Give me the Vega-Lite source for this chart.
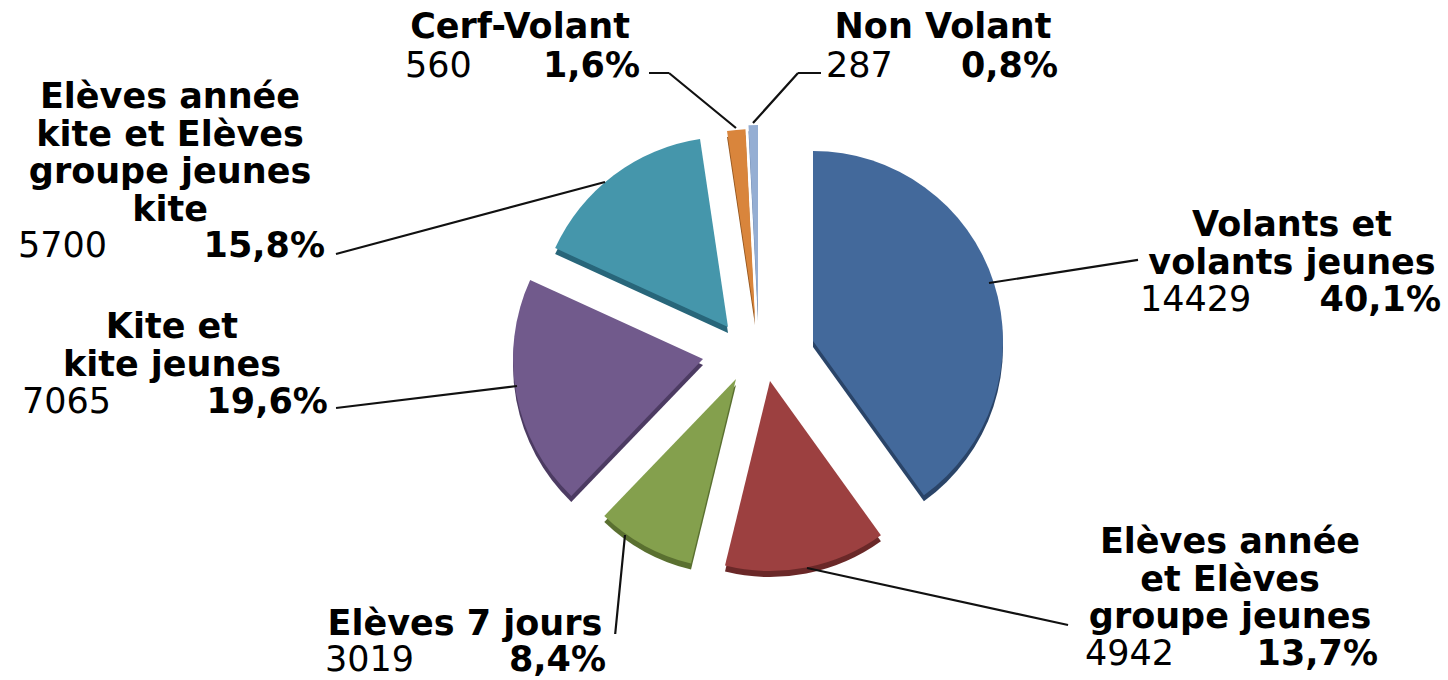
{
  "$schema": "https://vega.github.io/schema/vega-lite/v6.json",
  "width": 1380,
  "height": 662,
  "autosize": {"type": "none"},
  "padding": {"left": 68, "top": 18, "right": 0, "bottom": 0},
  "background": "white",
  "config": {"view": {"stroke": null}},
  "data": {
    "values": [
      {"cat": "Volants et volants jeunes", "name": ["Volants et", "volants jeunes"], "value": 14429, "pct": "40,1%", "order": 1},
      {"cat": "Elèves année et Elèves groupe jeunes", "name": ["Elèves année", "et  Elèves", "groupe jeunes"], "value": 4942, "pct": "13,7%", "order": 2},
      {"cat": "Elèves 7 jours", "name": ["Elèves 7 jours"], "value": 3019, "pct": "8,4%", "order": 3},
      {"cat": "Kite et kite jeunes", "name": ["Kite  et", "kite jeunes"], "value": 7065, "pct": "19,6%", "order": 4},
      {"cat": "Elèves année kite et Elèves groupe jeunes kite", "name": ["Elèves année", "kite et Elèves", "groupe jeunes", "kite"], "value": 5700, "pct": "15,8%", "order": 5},
      {"cat": "Cerf-Volant", "name": ["Cerf-Volant"], "value": 560, "pct": "1,6%", "order": 6},
      {"cat": "Non Volant", "name": ["Non Volant"], "value": 287, "pct": "0,8%", "order": 7}
    ]
  },
  "resolve": {"scale": {"theta": "independent"}},
  "layer": [
    {"mark": {"type": "arc", "radius": 190, "xOffset": 55, "yOffset": -2, "fill": "#2A4468"},
     "encoding": {"theta": {"field": "value", "type": "quantitative", "stack": true}, "order": {"field": "order", "type": "quantitative"},
       "fillOpacity": {"condition": {"test": "datum.order === 1", "value": 1}, "value": 0}}},
    {"mark": {"type": "arc", "radius": 190, "xOffset": 12, "yOffset": 38, "fill": "#6A2828"},
     "encoding": {"theta": {"field": "value", "type": "quantitative", "stack": true}, "order": {"field": "order", "type": "quantitative"},
       "fillOpacity": {"condition": {"test": "datum.order === 2", "value": 1}, "value": 0}}},
    {"mark": {"type": "arc", "radius": 190, "xOffset": -22, "yOffset": 36, "fill": "#5A7030"},
     "encoding": {"theta": {"field": "value", "type": "quantitative", "stack": true}, "order": {"field": "order", "type": "quantitative"},
       "fillOpacity": {"condition": {"test": "datum.order === 3", "value": 1}, "value": 0}}},
    {"mark": {"type": "arc", "radius": 190, "xOffset": -55, "yOffset": 16, "fill": "#4C3B62"},
     "encoding": {"theta": {"field": "value", "type": "quantitative", "stack": true}, "order": {"field": "order", "type": "quantitative"},
       "fillOpacity": {"condition": {"test": "datum.order === 4", "value": 1}, "value": 0}}},
    {"mark": {"type": "arc", "radius": 190, "xOffset": -30, "yOffset": -16, "fill": "#28667A"},
     "encoding": {"theta": {"field": "value", "type": "quantitative", "stack": true}, "order": {"field": "order", "type": "quantitative"},
       "fillOpacity": {"condition": {"test": "datum.order === 5", "value": 1}, "value": 0}}},
    {"mark": {"type": "arc", "radius": 190, "xOffset": -3, "yOffset": -24, "fill": "#94561F"},
     "encoding": {"theta": {"field": "value", "type": "quantitative", "stack": true}, "order": {"field": "order", "type": "quantitative"},
       "fillOpacity": {"condition": {"test": "datum.order === 6", "value": 1}, "value": 0}}},
    {"mark": {"type": "arc", "radius": 190, "xOffset": 0, "yOffset": -28, "fill": "#647FA6"},
     "encoding": {"theta": {"field": "value", "type": "quantitative", "stack": true}, "order": {"field": "order", "type": "quantitative"},
       "fillOpacity": {"condition": {"test": "datum.order === 7", "value": 1}, "value": 0}}},

    {"mark": {"type": "arc", "radius": 190, "xOffset": 55, "yOffset": -8},
     "encoding": {"theta": {"field": "value", "type": "quantitative", "stack": true}, "order": {"field": "order", "type": "quantitative"},
       "color": {"field": "cat", "type": "nominal", "legend": null, "scale": {"domain": ["Volants et volants jeunes", "Elèves année et Elèves groupe jeunes", "Elèves 7 jours", "Kite et kite jeunes", "Elèves année kite et Elèves groupe jeunes kite", "Cerf-Volant", "Non Volant"], "range": ["#43699B", "#9C4040", "#84A04D", "#715A8C", "#4596AB", "#D9853C", "#95AED3"]}},
       "fillOpacity": {"condition": {"test": "datum.order === 1", "value": 1}, "value": 0}}},
    {"mark": {"type": "arc", "radius": 190, "xOffset": 12, "yOffset": 32},
     "encoding": {"theta": {"field": "value", "type": "quantitative", "stack": true}, "order": {"field": "order", "type": "quantitative"},
       "color": {"field": "cat", "type": "nominal", "legend": null},
       "fillOpacity": {"condition": {"test": "datum.order === 2", "value": 1}, "value": 0}}},
    {"mark": {"type": "arc", "radius": 190, "xOffset": -22, "yOffset": 30},
     "encoding": {"theta": {"field": "value", "type": "quantitative", "stack": true}, "order": {"field": "order", "type": "quantitative"},
       "color": {"field": "cat", "type": "nominal", "legend": null},
       "fillOpacity": {"condition": {"test": "datum.order === 3", "value": 1}, "value": 0}}},
    {"mark": {"type": "arc", "radius": 190, "xOffset": -55, "yOffset": 10},
     "encoding": {"theta": {"field": "value", "type": "quantitative", "stack": true}, "order": {"field": "order", "type": "quantitative"},
       "color": {"field": "cat", "type": "nominal", "legend": null},
       "fillOpacity": {"condition": {"test": "datum.order === 4", "value": 1}, "value": 0}}},
    {"mark": {"type": "arc", "radius": 190, "xOffset": -30, "yOffset": -22},
     "encoding": {"theta": {"field": "value", "type": "quantitative", "stack": true}, "order": {"field": "order", "type": "quantitative"},
       "color": {"field": "cat", "type": "nominal", "legend": null},
       "fillOpacity": {"condition": {"test": "datum.order === 5", "value": 1}, "value": 0}}},
    {"mark": {"type": "arc", "radius": 190, "xOffset": -3, "yOffset": -30},
     "encoding": {"theta": {"field": "value", "type": "quantitative", "stack": true}, "order": {"field": "order", "type": "quantitative"},
       "color": {"field": "cat", "type": "nominal", "legend": null},
       "fillOpacity": {"condition": {"test": "datum.order === 6", "value": 1}, "value": 0}}},
    {"mark": {"type": "arc", "radius": 190, "xOffset": 0, "yOffset": -34},
     "encoding": {"theta": {"field": "value", "type": "quantitative", "stack": true}, "order": {"field": "order", "type": "quantitative"},
       "color": {"field": "cat", "type": "nominal", "legend": null},
       "fillOpacity": {"condition": {"test": "datum.order === 7", "value": 1}, "value": 0}}},

    {"mark": {"type": "arc", "radius": 150.8, "padAngle": 3, "xOffset": 231, "yOffset": -66, "stroke": "#111", "strokeWidth": 2.2, "fillOpacity": 0},
     "encoding": {"theta": {"field": "value", "type": "quantitative", "stack": true, "scale": {"range": [0.158, 6.4412]}}, "order": {"field": "order", "type": "quantitative"},
       "strokeOpacity": {"condition": {"test": "datum.order === 1", "value": 1}, "value": 0}}},
    {"mark": {"type": "arc", "radius": 267.2, "padAngle": 3, "xOffset": 49, "yOffset": 219, "stroke": "#111", "strokeWidth": 2.2, "fillOpacity": 0},
     "encoding": {"theta": {"field": "value", "type": "quantitative", "stack": true, "scale": {"range": [-1.1636, 5.1196]}}, "order": {"field": "order", "type": "quantitative"},
       "strokeOpacity": {"condition": {"test": "datum.order === 2", "value": 1}, "value": 0}}},
    {"mark": {"type": "arc", "radius": 99.5, "padAngle": 3, "xOffset": -133, "yOffset": 186, "stroke": "#111", "strokeWidth": 2.2, "fillOpacity": 0},
     "encoding": {"theta": {"field": "value", "type": "quantitative", "stack": true, "scale": {"range": [-0.4039, 5.8793]}}, "order": {"field": "order", "type": "quantitative"},
       "strokeOpacity": {"condition": {"test": "datum.order === 3", "value": 1}, "value": 0}}},
    {"mark": {"type": "arc", "radius": 182.3, "padAngle": 3, "xOffset": -241, "yOffset": 37, "stroke": "#111", "strokeWidth": 2.2, "fillOpacity": 0},
     "encoding": {"theta": {"field": "value", "type": "quantitative", "stack": true, "scale": {"range": [0.0674, 6.3506]}}, "order": {"field": "order", "type": "quantitative"},
       "strokeOpacity": {"condition": {"test": "datum.order === 4", "value": 1}, "value": 0}}},
    {"mark": {"type": "arc", "radius": 278.5, "padAngle": 3, "xOffset": -153, "yOffset": -167, "stroke": "#111", "strokeWidth": 2.2, "fillOpacity": 0},
     "encoding": {"theta": {"field": "value", "type": "quantitative", "stack": true, "scale": {"range": [-1.1872, 5.0960]}}, "order": {"field": "order", "type": "quantitative"},
       "strokeOpacity": {"condition": {"test": "datum.order === 5", "value": 1}, "value": 0}}},
    {"mark": {"type": "arc", "radius": 86.7, "padAngle": 3, "xOffset": -22, "yOffset": -221, "stroke": "#111", "strokeWidth": 2.2, "fillOpacity": 0},
     "encoding": {"theta": {"field": "value", "type": "quantitative", "stack": true, "scale": {"range": [-0.7845, 5.4987]}}, "order": {"field": "order", "type": "quantitative"},
       "strokeOpacity": {"condition": {"test": "datum.order === 6", "value": 1}, "value": 0}}},
    {"mark": {"type": "arc", "radius": 20, "padAngle": 3, "xOffset": -89, "yOffset": -276, "stroke": "#111", "strokeWidth": 2.2, "fillOpacity": 0},
     "encoding": {"theta": {"field": "value", "type": "quantitative", "stack": true, "scale": {"range": [-1.4719, 4.8113]}}, "order": {"field": "order", "type": "quantitative"},
       "strokeOpacity": {"condition": {"test": "datum.order === 6", "value": 1}, "value": 0}}},
    {"mark": {"type": "arc", "radius": 67.3, "padAngle": 3, "xOffset": -5, "yOffset": -226, "stroke": "#111", "strokeWidth": 2.2, "fillOpacity": 0},
     "encoding": {"theta": {"field": "value", "type": "quantitative", "stack": true, "scale": {"range": [0.7578, 7.0410]}}, "order": {"field": "order", "type": "quantitative"},
       "strokeOpacity": {"condition": {"test": "datum.order === 7", "value": 1}, "value": 0}}},
    {"mark": {"type": "arc", "radius": 23, "padAngle": 3, "xOffset": 40, "yOffset": -276, "stroke": "#111", "strokeWidth": 2.2, "fillOpacity": 0},
     "encoding": {"theta": {"field": "value", "type": "quantitative", "stack": true, "scale": {"range": [1.5958, 7.8790]}}, "order": {"field": "order", "type": "quantitative"},
       "strokeOpacity": {"condition": {"test": "datum.order === 7", "value": 1}, "value": 0}}},

    {"mark": {"type": "text", "radius": 195, "align": "center", "baseline": "alphabetic", "dx": 348.4, "dy": -53.1, "font": "DejaVu Sans", "fontSize": 35, "fontWeight": "bold", "lineHeight": 37.5, "fill": "#000"},
     "encoding": {"theta": {"field": "value", "type": "quantitative", "stack": true}, "order": {"field": "order", "type": "quantitative"},
       "text": {"condition": {"test": "datum.order === 1", "field": "name", "type": "nominal"}, "value": ""}}},
    {"mark": {"type": "text", "radius": 195, "align": "left", "baseline": "alphabetic", "dx": 196.4, "dy": 21.9, "font": "DejaVu Sans", "fontSize": 35, "fill": "#000"},
     "encoding": {"theta": {"field": "value", "type": "quantitative", "stack": true}, "order": {"field": "order", "type": "quantitative"},
       "text": {"condition": {"test": "datum.order === 1", "field": "value", "type": "quantitative", "format": "d"}, "value": ""}}},
    {"mark": {"type": "text", "radius": 195, "align": "right", "baseline": "alphabetic", "dx": 497.4, "dy": 21.9, "font": "DejaVu Sans", "fontSize": 35, "fontWeight": "bold", "fill": "#000"},
     "encoding": {"theta": {"field": "value", "type": "quantitative", "stack": true}, "order": {"field": "order", "type": "quantitative"},
       "text": {"condition": {"test": "datum.order === 1", "field": "pct", "type": "nominal"}, "value": ""}}},

    {"mark": {"type": "text", "radius": 195, "align": "center", "baseline": "alphabetic", "dx": 434.8, "dy": 12.6, "font": "DejaVu Sans", "fontSize": 35, "fontWeight": "bold", "lineHeight": 37.5, "fill": "#000"},
     "encoding": {"theta": {"field": "value", "type": "quantitative", "stack": true}, "order": {"field": "order", "type": "quantitative"},
       "text": {"condition": {"test": "datum.order === 2", "field": "name", "type": "nominal"}, "value": ""}}},
    {"mark": {"type": "text", "radius": 195, "align": "left", "baseline": "alphabetic", "dx": 289.8, "dy": 124.6, "font": "DejaVu Sans", "fontSize": 35, "fill": "#000"},
     "encoding": {"theta": {"field": "value", "type": "quantitative", "stack": true}, "order": {"field": "order", "type": "quantitative"},
       "text": {"condition": {"test": "datum.order === 2", "field": "value", "type": "quantitative", "format": "d"}, "value": ""}}},
    {"mark": {"type": "text", "radius": 195, "align": "right", "baseline": "alphabetic", "dx": 582.8, "dy": 124.6, "font": "DejaVu Sans", "fontSize": 35, "fontWeight": "bold", "fill": "#000"},
     "encoding": {"theta": {"field": "value", "type": "quantitative", "stack": true}, "order": {"field": "order", "type": "quantitative"},
       "text": {"condition": {"test": "datum.order === 2", "field": "pct", "type": "nominal"}, "value": ""}}},

    {"mark": {"type": "text", "radius": 195, "align": "center", "baseline": "alphabetic", "dx": -199.1, "dy": 115.1, "font": "DejaVu Sans", "fontSize": 35, "fontWeight": "bold", "lineHeight": 37.5, "fill": "#000"},
     "encoding": {"theta": {"field": "value", "type": "quantitative", "stack": true}, "order": {"field": "order", "type": "quantitative"},
       "text": {"condition": {"test": "datum.order === 3", "field": "name", "type": "nominal"}, "value": ""}}},
    {"mark": {"type": "text", "radius": 195, "align": "left", "baseline": "alphabetic", "dx": -339.1, "dy": 151.6, "font": "DejaVu Sans", "fontSize": 35, "fill": "#000"},
     "encoding": {"theta": {"field": "value", "type": "quantitative", "stack": true}, "order": {"field": "order", "type": "quantitative"},
       "text": {"condition": {"test": "datum.order === 3", "field": "value", "type": "quantitative", "format": "d"}, "value": ""}}},
    {"mark": {"type": "text", "radius": 195, "align": "right", "baseline": "alphabetic", "dx": -58.1, "dy": 151.6, "font": "DejaVu Sans", "fontSize": 35, "fontWeight": "bold", "fill": "#000"},
     "encoding": {"theta": {"field": "value", "type": "quantitative", "stack": true}, "order": {"field": "order", "type": "quantitative"},
       "text": {"condition": {"test": "datum.order === 3", "field": "pct", "type": "nominal"}, "value": ""}}},

    {"mark": {"type": "text", "radius": 195, "align": "center", "baseline": "alphabetic", "dx": -394.5, "dy": -47.5, "font": "DejaVu Sans", "fontSize": 35, "fontWeight": "bold", "lineHeight": 37.5, "fill": "#000"},
     "encoding": {"theta": {"field": "value", "type": "quantitative", "stack": true}, "order": {"field": "order", "type": "quantitative"},
       "text": {"condition": {"test": "datum.order === 4", "field": "name", "type": "nominal"}, "value": ""}}},
    {"mark": {"type": "text", "radius": 195, "align": "left", "baseline": "alphabetic", "dx": -544.5, "dy": 27.5, "font": "DejaVu Sans", "fontSize": 35, "fill": "#000"},
     "encoding": {"theta": {"field": "value", "type": "quantitative", "stack": true}, "order": {"field": "order", "type": "quantitative"},
       "text": {"condition": {"test": "datum.order === 4", "field": "value", "type": "quantitative", "format": "d"}, "value": ""}}},
    {"mark": {"type": "text", "radius": 195, "align": "right", "baseline": "alphabetic", "dx": -238.5, "dy": 27.5, "font": "DejaVu Sans", "fontSize": 35, "fontWeight": "bold", "fill": "#000"},
     "encoding": {"theta": {"field": "value", "type": "quantitative", "stack": true}, "order": {"field": "order", "type": "quantitative"},
       "text": {"condition": {"test": "datum.order === 4", "field": "pct", "type": "nominal"}, "value": ""}}},

    {"mark": {"type": "text", "radius": 195, "align": "center", "baseline": "alphabetic", "dx": -470.7, "dy": -85.2, "font": "DejaVu Sans", "fontSize": 35, "fontWeight": "bold", "lineHeight": 37.5, "fill": "#000"},
     "encoding": {"theta": {"field": "value", "type": "quantitative", "stack": true}, "order": {"field": "order", "type": "quantitative"},
       "text": {"condition": {"test": "datum.order === 5", "field": "name", "type": "nominal"}, "value": ""}}},
    {"mark": {"type": "text", "radius": 195, "align": "left", "baseline": "alphabetic", "dx": -622.7, "dy": 63.8, "font": "DejaVu Sans", "fontSize": 35, "fill": "#000"},
     "encoding": {"theta": {"field": "value", "type": "quantitative", "stack": true}, "order": {"field": "order", "type": "quantitative"},
       "text": {"condition": {"test": "datum.order === 5", "field": "value", "type": "quantitative", "format": "d"}, "value": ""}}},
    {"mark": {"type": "text", "radius": 195, "align": "right", "baseline": "alphabetic", "dx": -315.7, "dy": 63.8, "font": "DejaVu Sans", "fontSize": 35, "fontWeight": "bold", "fill": "#000"},
     "encoding": {"theta": {"field": "value", "type": "quantitative", "stack": true}, "order": {"field": "order", "type": "quantitative"},
       "text": {"condition": {"test": "datum.order === 5", "field": "pct", "type": "nominal"}, "value": ""}}},

    {"mark": {"type": "text", "radius": 195, "align": "center", "baseline": "alphabetic", "dx": -218.7, "dy": -117, "font": "DejaVu Sans", "fontSize": 35, "fontWeight": "bold", "lineHeight": 37.5, "fill": "#000"},
     "encoding": {"theta": {"field": "value", "type": "quantitative", "stack": true}, "order": {"field": "order", "type": "quantitative"},
       "text": {"condition": {"test": "datum.order === 6", "field": "name", "type": "nominal"}, "value": ""}}},
    {"mark": {"type": "text", "radius": 195, "align": "left", "baseline": "alphabetic", "dx": -333.7, "dy": -78, "font": "DejaVu Sans", "fontSize": 35, "fill": "#000"},
     "encoding": {"theta": {"field": "value", "type": "quantitative", "stack": true}, "order": {"field": "order", "type": "quantitative"},
       "text": {"condition": {"test": "datum.order === 6", "field": "value", "type": "quantitative", "format": "d"}, "value": ""}}},
    {"mark": {"type": "text", "radius": 195, "align": "right", "baseline": "alphabetic", "dx": -98.7, "dy": -78, "font": "DejaVu Sans", "fontSize": 35, "fontWeight": "bold", "fill": "#000"},
     "encoding": {"theta": {"field": "value", "type": "quantitative", "stack": true}, "order": {"field": "order", "type": "quantitative"},
       "text": {"condition": {"test": "datum.order === 6", "field": "pct", "type": "nominal"}, "value": ""}}},

    {"mark": {"type": "text", "radius": 195, "align": "center", "baseline": "alphabetic", "dx": 189.9, "dy": -116.1, "font": "DejaVu Sans", "fontSize": 35, "fontWeight": "bold", "lineHeight": 37.5, "fill": "#000"},
     "encoding": {"theta": {"field": "value", "type": "quantitative", "stack": true}, "order": {"field": "order", "type": "quantitative"},
       "text": {"condition": {"test": "datum.order === 7", "field": "name", "type": "nominal"}, "value": ""}}},
    {"mark": {"type": "text", "radius": 195, "align": "left", "baseline": "alphabetic", "dx": 72.9, "dy": -77.1, "font": "DejaVu Sans", "fontSize": 35, "fill": "#000"},
     "encoding": {"theta": {"field": "value", "type": "quantitative", "stack": true}, "order": {"field": "order", "type": "quantitative"},
       "text": {"condition": {"test": "datum.order === 7", "field": "value", "type": "quantitative", "format": "d"}, "value": ""}}},
    {"mark": {"type": "text", "radius": 195, "align": "right", "baseline": "alphabetic", "dx": 304.9, "dy": -77.1, "font": "DejaVu Sans", "fontSize": 35, "fontWeight": "bold", "fill": "#000"},
     "encoding": {"theta": {"field": "value", "type": "quantitative", "stack": true}, "order": {"field": "order", "type": "quantitative"},
       "text": {"condition": {"test": "datum.order === 7", "field": "pct", "type": "nominal"}, "value": ""}}}
  ]
}
